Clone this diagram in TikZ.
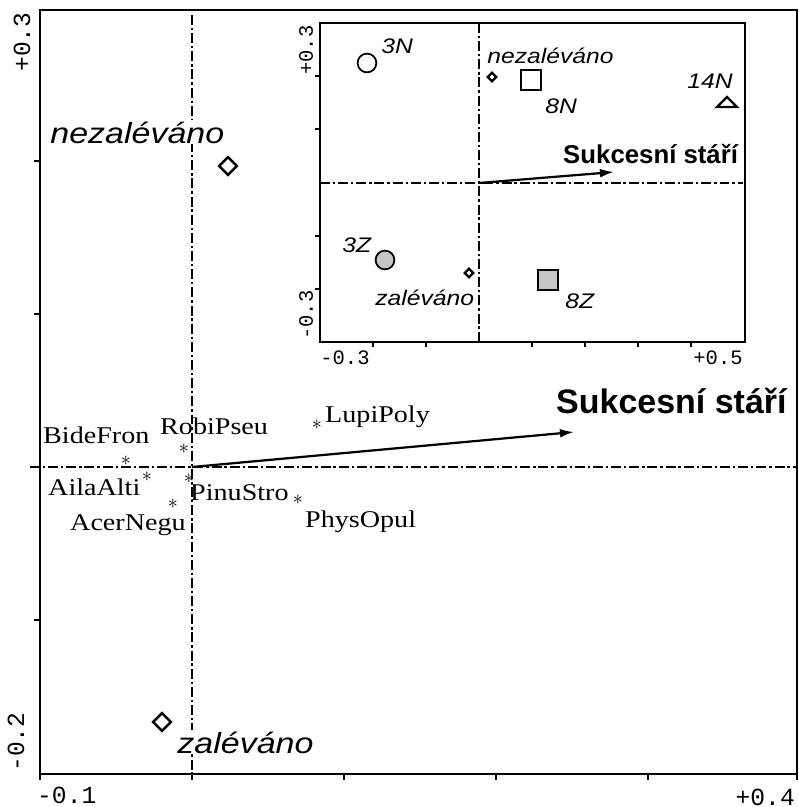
\documentclass[tikz,border=0pt]{standalone}
\usepackage{fontspec}
\newfontfamily\specfont[FakeStretch=1.17]{Liberation Serif}
\newfontfamily\labfont[FakeStretch=1.17]{Liberation Sans}
\newfontfamily\boldfont{Liberation Sans}
\newfontfamily\axfont{Liberation Mono}
\usetikzlibrary{arrows.meta,shapes.geometric}
\tikzset{
  axline/.style={line width=2pt, dash pattern=on 8.5pt off 2.5pt on 2pt off 2.5pt},
  frame/.style={line width=2.2pt},
  vec/.style={line width=1.9pt, -{Latex[length=12pt,width=7.5pt]}},
  spec/.style={anchor=base west, inner sep=0pt, font=\specfont\fontsize{20.5}{22}\selectfont},
  spstar/.style={inner sep=0pt, font=\fontsize{16}{16}\selectfont},
  grp/.style={anchor=base west, inner sep=1pt, fill=white, font=\labfont\itshape\fontsize{24.8}{26}\selectfont},
  sgrp/.style={anchor=base west, inner sep=1pt, font=\labfont\itshape\fontsize{18}{20}\selectfont},
  ax/.style={inner sep=0pt, font=\axfont\fontsize{21}{22}\selectfont},
  sax/.style={inner sep=0pt, font=\axfont\fontsize{17.5}{18}\selectfont},
  bigdia/.style={diamond, draw, line width=2.2pt, minimum size=16pt, inner sep=0pt},
  smalldia/.style={diamond, draw, line width=1.9pt, minimum size=8pt, inner sep=0pt},
  plot/.style={draw, line width=1.5pt, inner sep=0pt},
}
\begin{document}
\begin{tikzpicture}[x=0.03cm,y=-0.03cm]
  \useasboundingbox (0,0) rectangle (798,807);
  % main ordination
  \draw[axline] (192,15) -- (192,778);
  \draw[axline] (30,467) -- (797,467);
  \draw[frame] (40,10) rectangle (797,774);
  \foreach \x in {40,192,344,496,648,797} \draw[frame] (\x,774) -- (\x,780);
  \foreach \y in {161,314,467,620} \draw[frame] (40,\y) -- (34,\y);
  \node[ax, rotate=90] (ytop) at (22,42) {+0.3};
  \node[ax, rotate=90] (ybot) at (16,742) {-0.2};
  \node[ax, anchor=base west] (xleft) at (37,803) {-0.1};
  \node[ax, anchor=base east] (xright) at (795,805) {+0.4};

  \node[grp] (nez) at (49,143) {nezaléváno};
  \node[bigdia] (nezdia) at (228,166) {};
  \node[grp] (zal) at (176,753) {zaléváno};
  \node[bigdia] (zaldia) at (162,722) {};

  \node[spstar] (bide) at (126,461) {$\ast$};
  \node[spstar] (robi) at (184,449) {$\ast$};
  \node[spstar] (lupi) at (317,425) {$\ast$};
  \node[spstar] (aila) at (147,477) {$\ast$};
  \node[spstar] (pinu) at (189,479) {$\ast$};
  \node[spstar] (acer) at (173,504) {$\ast$};
  \node[spstar] (phys) at (298,500) {$\ast$};
  \node[spec] (bidet) at (43,443) {BideFron};
  \node[spec] (robit) at (160,434) {RobiPseu};
  \node[spec] (lupit) at (325,422) {LupiPoly};
  \node[spec] (ailat) at (48,495) {AilaAlti};
  \node[spec] (pinut) at (190,500) {PinuStro};
  \node[spec] (acert) at (70,530) {AcerNegu};
  \node[spec] (physt) at (305,527) {PhysOpul};

  \coordinate (o) at (192,467);
  \coordinate (age) at (574,432);
  \draw[vec] (o) -- (age);
  \node[anchor=base west, inner sep=0pt, font=\boldfont\bfseries\fontsize{29}{30}\selectfont] (aget) at (556,413) {Sukcesní stáří};

  % inset
  \draw[frame, fill=white] (320,23) rectangle (745,342);
  \draw[axline] (479,23) -- (479,342);
  \draw[axline] (320,183) -- (743,183);
  \foreach \x in {373,426,532,585,638,691} \draw[line width=1.7pt] (\x,342) -- (\x,347);
  \foreach \y in {76,129,236,289} \draw[line width=1.7pt] (320,\y) -- (315,\y);
  \node[sax, rotate=90] (iytop) at (306,50) {+0.3};
  \node[sax, rotate=90] (iybot) at (306,315) {-0.3};
  \node[sax] (ixleft) at (345,358) {-0.3};
  \node[sax] (ixright) at (718,358) {+0.5};

  \node[plot, circle, minimum size=16pt] (n3) at (367,63) {};
  \node[sgrp] (n3t) at (380,53) {3N};
  \node[smalldia] (inez) at (492,77) {};
  \node[sgrp] (inezt) at (486,63) {nezaléváno};
  \node[plot, minimum size=16.5pt] (n8) at (531,80) {};
  \node[sgrp] (n8t) at (544,113) {8N};
  \coordinate (n14) at (727,102);
  \draw[line width=2pt] (n14) ++(-10,5) -- ++(20,0) -- ++(-10,-10) -- cycle;
  \node[sgrp] (n14t) at (686,88) {14N};
  \coordinate (io) at (479,183);
  \coordinate (iage) at (614,172);
  \draw[vec] (io) -- (iage);
  \node[anchor=base west, inner sep=0pt, font=\boldfont\bfseries\fontsize{22}{24}\selectfont] (iaget) at (563,163) {Sukcesní stáří};
  \node[plot, circle, fill=gray!45, minimum size=16pt] (z3) at (385,260) {};
  \node[sgrp] (z3t) at (341,252) {3Z};
  \node[smalldia] (izal) at (469,273) {};
  \node[sgrp, fill=white] (izalt) at (374,305) {zaléváno};
  \node[plot, line width=1.8pt, fill=gray!45, minimum size=16.5pt] (z8) at (548,280) {};
  \node[sgrp] (z8t) at (564,308) {8Z};
\end{tikzpicture}
\end{document}
